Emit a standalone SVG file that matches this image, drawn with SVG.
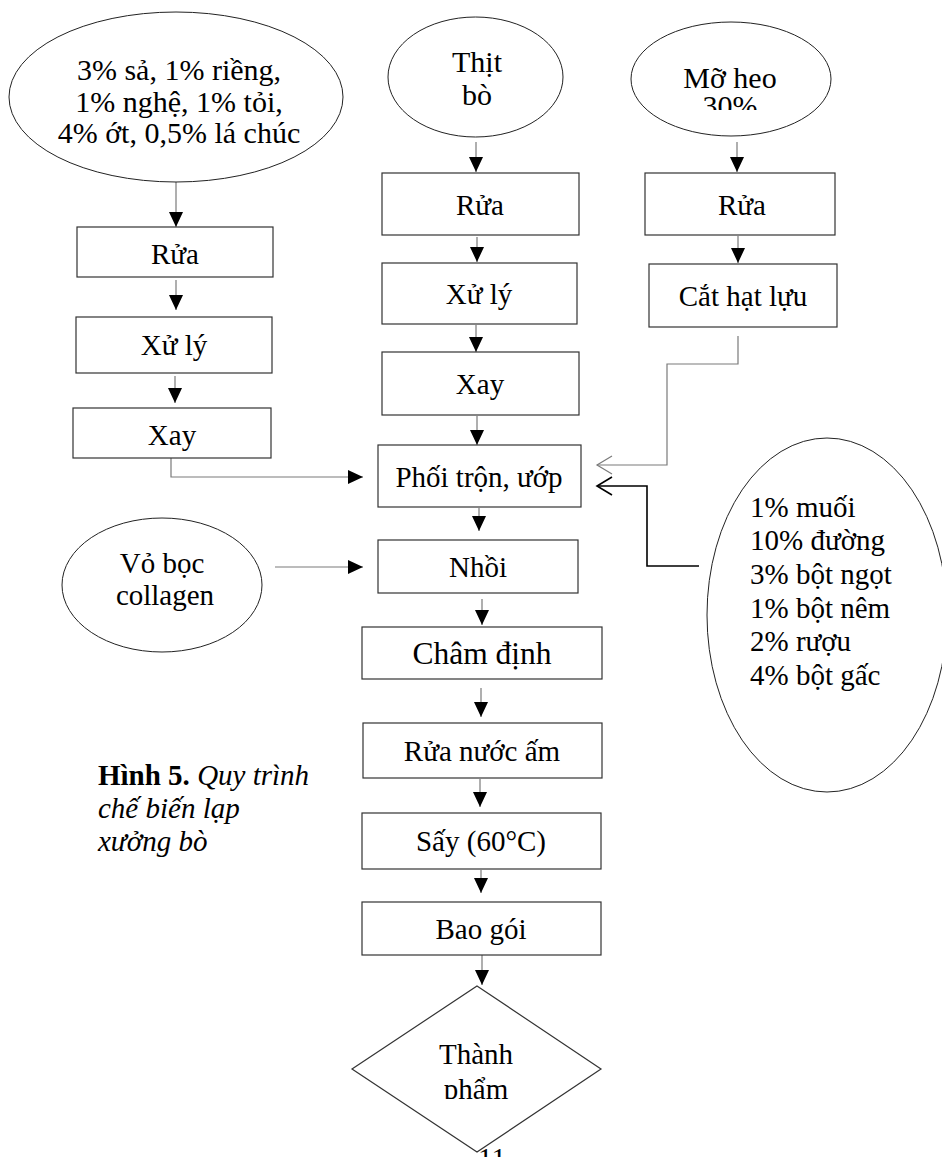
<svg xmlns="http://www.w3.org/2000/svg" width="942" height="1157" viewBox="0 0 942 1157">
<style>
  text { font-family: "Liberation Serif", "Times New Roman", serif; font-size: 29px; fill: #000; }
  .c { text-anchor: middle; }
  .box { fill: #fff; stroke: #333; stroke-width: 1.2; }
  .ell { fill: #fff; stroke: #222; stroke-width: 1; }
  .ln { fill: none; stroke: #7a7a7a; stroke-width: 1.2; }
  .lnk { fill: none; stroke: #000; stroke-width: 1.6; }
  .big { font-size: 31.5px; }
  .et { font-size: 30px; }
  .cap { font-size: 29px; }
</style>
<defs>
  <marker id="ah" markerWidth="15" markerHeight="14" refX="15" refY="7" orient="auto" markerUnits="userSpaceOnUse">
    <path d="M0,0 L15,7 L0,14 z" fill="#000"/>
  </marker>
  <marker id="og" markerWidth="18" markerHeight="22" refX="16" refY="10" orient="auto" markerUnits="userSpaceOnUse">
    <path d="M1,1 L16,10 L1,19" fill="none" stroke="#7a7a7a" stroke-width="1.2"/>
  </marker>
  <marker id="ok" markerWidth="18" markerHeight="22" refX="16" refY="10" orient="auto" markerUnits="userSpaceOnUse">
    <path d="M1,1 L16,10 L1,19" fill="none" stroke="#000" stroke-width="1.6"/>
  </marker>
  <clipPath id="clipMo"><rect x="600" y="0" width="300" height="110"/></clipPath>
  <clipPath id="clipTP"><rect x="340" y="980" width="280" height="119"/></clipPath>
</defs>

<g id="connectors">
  <path class="ln" d="M176,182 V227" marker-end="url(#ah)"/>
  <path class="ln" d="M176,280 V310" marker-end="url(#ah)"/>
  <path class="ln" d="M175,376 V403" marker-end="url(#ah)"/>
  <path class="ln" d="M171,458 V477 H363" marker-end="url(#ah)"/>

  <path class="ln" d="M476,142 V172" marker-end="url(#ah)"/>
  <path class="ln" d="M477,237 V262" marker-end="url(#ah)"/>
  <path class="ln" d="M476,325 V352" marker-end="url(#ah)"/>
  <path class="ln" d="M477,416 V445" marker-end="url(#ah)"/>
  <path class="ln" d="M479,508 V531" marker-end="url(#ah)"/>
  <path class="ln" d="M482,599 V625" marker-end="url(#ah)"/>
  <path class="ln" d="M481,688 V717" marker-end="url(#ah)"/>
  <path class="ln" d="M480,779 V807" marker-end="url(#ah)"/>
  <path class="ln" d="M481,870 V893" marker-end="url(#ah)"/>
  <path class="ln" d="M482,952 V985" marker-end="url(#ah)"/>

  <path class="ln" d="M737,142 V172" marker-end="url(#ah)"/>
  <path class="ln" d="M738,236 V263" marker-end="url(#ah)"/>
  <path class="ln" d="M738,336 V364 H667 V465 H597" marker-end="url(#og)"/>
  <path class="lnk" d="M699,566 H647 V486 H597" marker-end="url(#ok)"/>

  <path class="ln" d="M275,567 H363" marker-end="url(#ah)"/>
</g>

<g id="n-spices">
  <ellipse class="ell" cx="176" cy="97" rx="167" ry="85"/>
  <text class="c et" x="179" y="80">3% sả, 1% riềng,</text>
  <text class="c et" x="179" y="111.5">1% nghệ, 1% tỏi,</text>
  <text class="c et" x="179" y="143">4% ớt, 0,5% lá chúc</text>
</g>
<g id="n-rua-l"><rect class="box" x="77" y="227" width="196" height="50"/><text class="c" x="175" y="264">Rửa</text></g>
<g id="n-xuly-l"><rect class="box" x="76" y="317" width="196" height="56"/><text class="c" x="174" y="355">Xử lý</text></g>
<g id="n-xay-l"><rect class="box" x="73" y="408" width="198" height="50"/><text class="c" x="172" y="445">Xay</text></g>

<g id="n-thitbo">
  <ellipse class="ell" cx="475.5" cy="77" rx="87.5" ry="60"/>
  <text class="c et" x="477" y="72">Thịt</text>
  <text class="c et" x="477" y="105">bò</text>
</g>
<g id="n-rua-m"><rect class="box" x="382" y="173" width="197" height="62"/><text class="c" x="480" y="215">Rửa</text></g>
<g id="n-xuly-m"><rect class="box" x="382" y="263" width="195" height="61"/><text class="c" x="479" y="304">Xử lý</text></g>
<g id="n-xay-m"><rect class="box" x="382" y="352" width="197" height="63"/><text class="c" x="480" y="394">Xay</text></g>
<g id="n-phoitron"><rect class="box" x="378" y="445" width="203" height="62"/><text class="c" x="479" y="487">Phối trộn, ướp</text></g>
<g id="n-nhoi"><rect class="box" x="378" y="540" width="200" height="53"/><text class="c" x="478" y="577">Nhồi</text></g>
<g id="n-chamdinh"><rect class="box" x="362" y="627" width="240" height="52"/><text class="c big" x="482" y="664">Châm định</text></g>
<g id="n-ruanuocam"><rect class="box" x="363" y="723" width="239" height="55"/><text class="c" x="482" y="761">Rửa nước ấm</text></g>
<g id="n-say"><rect class="box" x="362" y="813" width="239" height="56"/><text class="c" x="481" y="851">Sấy (60°C)</text></g>
<g id="n-baogoi"><rect class="box" x="362" y="902" width="239" height="53"/><text class="c" x="481" y="939">Bao gói</text></g>
<g id="n-thanhpham">
  <polygon class="box" points="477,986 601,1069 477,1152 352,1069"/>
  <g clip-path="url(#clipTP)">
    <text class="c" x="476" y="1064">Thành</text>
    <text class="c" x="476" y="1099">phẩm</text>
  </g>
</g>

<g id="n-mo">
  <ellipse class="ell" cx="731" cy="79" rx="100" ry="57"/>
  <text class="c et" x="730" y="88">Mỡ heo</text>
  <g clip-path="url(#clipMo)"><text class="c et" x="730" y="116">30%</text></g>
</g>
<g id="n-rua-r"><rect class="box" x="645" y="173" width="190" height="62"/><text class="c" x="742" y="215">Rửa</text></g>
<g id="n-cat"><rect class="box" x="649" y="264" width="188" height="63"/><text class="c" x="743" y="306">Cắt hạt lựu</text></g>

<g id="n-giavi">
  <ellipse class="ell" cx="827" cy="615" rx="120" ry="177"/>
  <text x="750" y="517">1% muối</text>
  <text x="750" y="550">10% đường</text>
  <text x="750" y="584">3% bột ngọt</text>
  <text x="750" y="618">1% bột nêm</text>
  <text x="750" y="651">2% rượu</text>
  <text x="750" y="685">4% bột gấc</text>
</g>

<g id="n-vobocc">
  <ellipse class="ell" cx="162" cy="585" rx="100" ry="67"/>
  <text class="c" x="162" y="573">Vỏ bọc</text>
  <text class="c" x="165" y="605">collagen</text>
</g>

<g id="caption">
  <text class="cap" x="98" y="785"><tspan font-weight="bold">Hình 5.</tspan><tspan font-style="italic"> Quy trình</tspan></text>
  <text class="cap" x="98" y="818" font-style="italic">chế biến lạp</text>
  <text class="cap" x="98" y="851" font-style="italic">xưởng bò</text>
</g>

<text x="478" y="1168">11</text>
</svg>
